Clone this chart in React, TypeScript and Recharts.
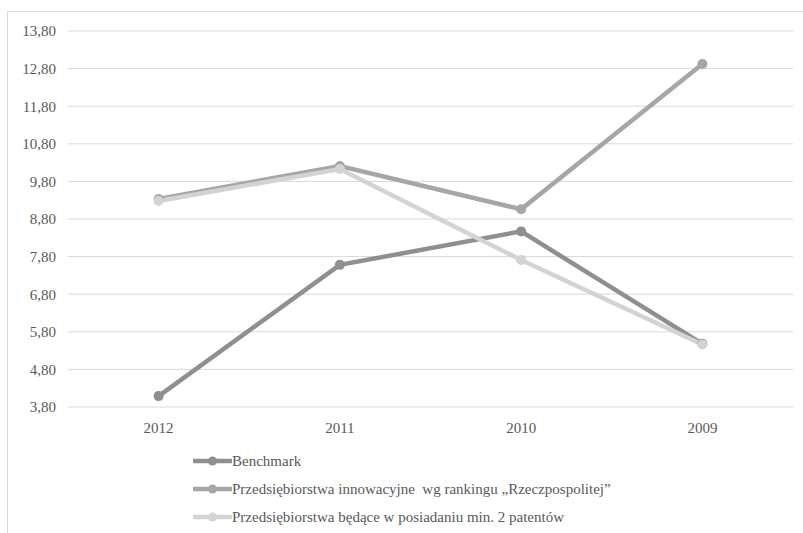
import React from 'react';
import {
    LineChart, Line, XAxis, YAxis, CartesianGrid, Legend
} from 'recharts';

const years = ['2012', '2011', '2010', '2009'];
const benchmark = [4.09, 7.58, 8.47, 5.48];
const innowacyjne = [9.33, 10.21, 9.06, 12.92];
const patenty = [9.28, 10.13, 7.71, 5.46];
const yTicks = [3.8, 4.8, 5.8, 6.8, 7.8, 8.8, 9.8, 10.8, 11.8, 12.8, 13.8];

const series = [
    { key: 'benchmark', name: 'Benchmark', color: '#8f8f8f' },
    { key: 'innowacyjne', name: 'Przedsiębiorstwa innowacyjne  wg rankingu „Rzeczpospolitej”', color: '#a6a6a6' },
    { key: 'patenty', name: 'Przedsiębiorstwa będące w posiadaniu min. 2 patentów', color: '#d3d3d3' },
];

const data = years.map((year, i) => ({
    year,
    benchmark: benchmark[i],
    innowacyjne: innowacyjne[i],
    patenty: patenty[i],
}));

const FONT = 'Liberation Serif, serif';
const TEXT = '#595959';

const fmt = (v: number) => v.toFixed(2).replace('.', ',');

const renderLegend = () => (
    <div style={{ fontFamily: FONT, fontSize: 15, color: TEXT }}>
        {series.map((s) => (
            <div key={s.key} style={{ display: 'flex', alignItems: 'center', height: 28, whiteSpace: 'pre' }}>
                <svg width={39} height={12}>
                    <line x1={1} y1={6} x2={38} y2={6} stroke={s.color} strokeWidth={4.5} strokeLinecap="round" />
                    <circle cx={19.5} cy={6} r={4.5} fill={s.color} />
                </svg>
                <span>{s.name}</span>
            </div>
        ))}
    </div>
);

export default function App() {
    return (
        <div
            style={{
                position: 'absolute', left: 7, top: 11, width: 796, height: 522,
                borderTop: '1px solid #d9d9d9', borderLeft: '1px solid #d9d9d9',
                boxSizing: 'border-box', background: '#fff', fontFamily: FONT,
            }}
        >
            {/* the x axis reserves 30px of its own below the plot */}
            <LineChart width={795} height={521} data={data} margin={{ top: 19, right: 10, bottom: 96, left: 0 }}>
                <CartesianGrid vertical={false} stroke="#d9d9d9" strokeWidth={1} />
                <XAxis
                    dataKey="year"
                    height={30}
                    axisLine={false}
                    tickLine={false}
                    tickMargin={9}
                    padding={{ left: 90.6, right: 90.6 }}
                    tick={{ fill: TEXT, fontSize: 15, fontFamily: FONT }}
                />
                <YAxis
                    width={60}
                    domain={[3.8, 13.8]}
                    ticks={yTicks}
                    interval={0}
                    allowDataOverflow
                    axisLine={false}
                    tickLine={false}
                    tickMargin={6}
                    tickFormatter={fmt}
                    tick={{ fill: TEXT, fontSize: 15, fontFamily: FONT }}
                />
                <Legend
                    layout="horizontal"
                    verticalAlign="middle"
                    align="center"
                    content={renderLegend}
                    wrapperStyle={{ left: 185, top: 435, width: 'auto', height: 'auto' }}
                />
                {series.map((s) => (
                    <Line
                        key={s.key}
                        type="linear"
                        dataKey={s.key}
                        name={s.name}
                        stroke={s.color}
                        strokeWidth={4.5}
                        dot={{ r: 5, fill: s.color, stroke: s.color, strokeWidth: 0 }}
                        activeDot={false}
                        isAnimationActive={false}
                    />
                ))}
            </LineChart>
        </div>
    );
}
